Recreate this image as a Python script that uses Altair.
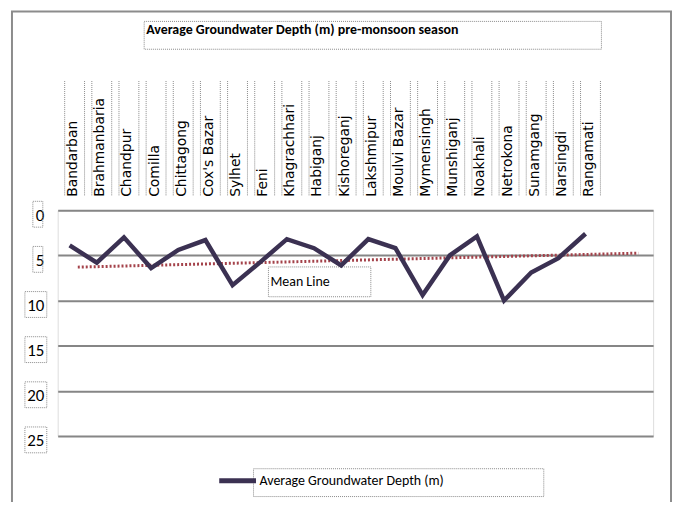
import json
import altair as alt
import pandas as pd

districts = ["Bandarban", "Brahmanbaria", "Chandpur", "Comilla", "Chittagong",
             "Cox's Bazar", "Sylhet", "Feni", "Khagrachhari", "Habiganj",
             "Kishoreganj", "Lakshmipur", "Moulvi Bazar", "Mymensingh",
             "Munshiganj", "Noakhali", "Netrokona", "Sunamgang", "Narsingdi",
             "Rangamati"]
depth = [3.9, 5.8, 3.0, 6.4, 4.4, 3.3, 8.3, 5.8, 3.2, 4.2,
         6.1, 3.2, 4.2, 9.4, 5.0, 2.9, 10.0, 6.9, 5.3, 2.6]
trend_x = [0.3, 20.95]
trend_y = [6.3, 4.75]
y_ticks = [0, 5, 10, 15, 20, 25]

series_name = "Average Groundwater Depth (m)"
title_text = "Average Groundwater Depth (m) pre-monsoon season"
mean_label = "Mean Line"

df = pd.DataFrame({"idx": list(range(len(districts))), "district": districts,
                   "depth": depth, "series": series_name})
tdf = pd.DataFrame({"idx": trend_x, "depth": trend_y})
one = pd.DataFrame({"a": [0]})

NARROW = "Carlito, Lato, sans-serif"
label_expr = json.dumps(districts) + "[datum.value]"

xscale = alt.Scale(domain=[-0.44, 21.49], nice=False, zero=False)
yscale = alt.Scale(domain=[0, 25], reverse=True, nice=False, zero=False)

xaxis = alt.Axis(orient="top", values=list(range(len(districts))), labelExpr=label_expr,
                 labelAngle=-90, labelAlign="left", labelBaseline="middle",
                 labelFont="DejaVu Sans", labelFontSize=14, labelColor="black",
                 labelPadding=14, labelOffset=3, ticks=False, tickSize=0, domain=False,
                 grid=False, labelOverlap=False, labelFlush=False, labelBound=False,
                 labelSeparation=0, labelLimit=0, title=None)
yaxis = alt.Axis(values=y_ticks, grid=True, gridColor="#868686", gridWidth=2,
                 domain=False, ticks=False, tickSize=0, labelPadding=14,
                 labelFont=NARROW, labelFontSize=17, labelColor="black",
                 labelOffset=5, labelFlush=False, title=None)

line = alt.Chart(df).mark_line(strokeWidth=4.5).encode(
    x=alt.X("idx:Q", scale=xscale, axis=xaxis),
    y=alt.Y("depth:Q", scale=yscale, axis=yaxis),
    color=alt.Color("series:N", scale=alt.Scale(range=["#3b3152"]),
                    legend=alt.Legend(orient="none", legendX=160, legendY=251,
                                      title=None, symbolType="stroke",
                                      symbolSize=1369, symbolStrokeWidth=5,
                                      labelFont=NARROW, labelFontSize=14,
                                      labelLimit=0,
                                      labelColor="black", labelOffset=1, padding=0)),
)

trend = alt.Chart(tdf).mark_line(strokeWidth=3, strokeDash=[2, 2], color="#a4424a").encode(
    x=alt.X("idx:Q", scale=xscale, axis=xaxis),
    y=alt.Y("depth:Q", scale=yscale, axis=yaxis),
)


def box(x1, x2, y1, y2, color="#8a8a8a", width=1, dash=(1, 1)):
    return alt.Chart(one).mark_rect(fill=None, stroke=color, strokeWidth=width,
                                    strokeDash=list(dash)).encode(
        x=alt.value(x1), x2=alt.value(x2), y=alt.value(y1), y2=alt.value(y2))


def label_boxes(vals, x1, x2):
    d = pd.DataFrame({"v": vals})
    return alt.Chart(d).mark_rect(fill=None, stroke="#8a8a8a", strokeWidth=1,
                                  strokeDash=[1, 1], yOffset=-9, y2Offset=17).encode(
        y=alt.Y("v:Q", scale=yscale, axis=yaxis), y2="v:Q",
        x=alt.value(x1), x2=alt.value(x2))


def label_side(offset):
    return alt.Chart(df).mark_rule(stroke="#8a8a8a", strokeWidth=1, strokeDash=[1, 1],
                                   xOffset=offset).encode(
        x=alt.X("idx:Q", scale=xscale, axis=xaxis),
        y=alt.value(-130), y2=alt.value(-15))


frame = alt.Chart(one).mark_rect(fill=None, stroke="#8c8c8c", strokeWidth=2).encode(
    x=alt.value(-46), x2=alt.value(617), y=alt.value(-200), y2=alt.value(320))

title_box = box(87, 547, -190, -162)
legend_box = box(197, 489, 260, 288)
mean_box = box(212, 315, 57, 87)
small_boxes = label_boxes([v for v in y_ticks if v < 10], -25, -15)
wide_boxes = label_boxes([v for v in y_ticks if v >= 10], -33, -11)
mean_text = alt.Chart(one).mark_text(text=mean_label, font=NARROW, fontSize=14,
                                     align="left", baseline="middle", color="black").encode(
    x=alt.value(214), y=alt.value(72))

chart = alt.layer(frame, title_box, legend_box, mean_box, small_boxes, wide_boxes,
                  label_side(-5), label_side(15),
                  trend, line, mean_text).properties(
    width=599, height=227,
    autosize=alt.AutoSizeParams(type="none"),
    padding={"left": 50, "top": 202, "right": 20, "bottom": 65},
    title=alt.Title(title_text, anchor="start", frame="group", font=NARROW,
                    fontSize=14, fontWeight="bold", color="black", dx=89, dy=31),
).configure_view(stroke=None).configure_axis(labelOverlap=False).configure(background="white")

chart.save("out.html", embed_options={"renderer": "svg", "actions": False})
